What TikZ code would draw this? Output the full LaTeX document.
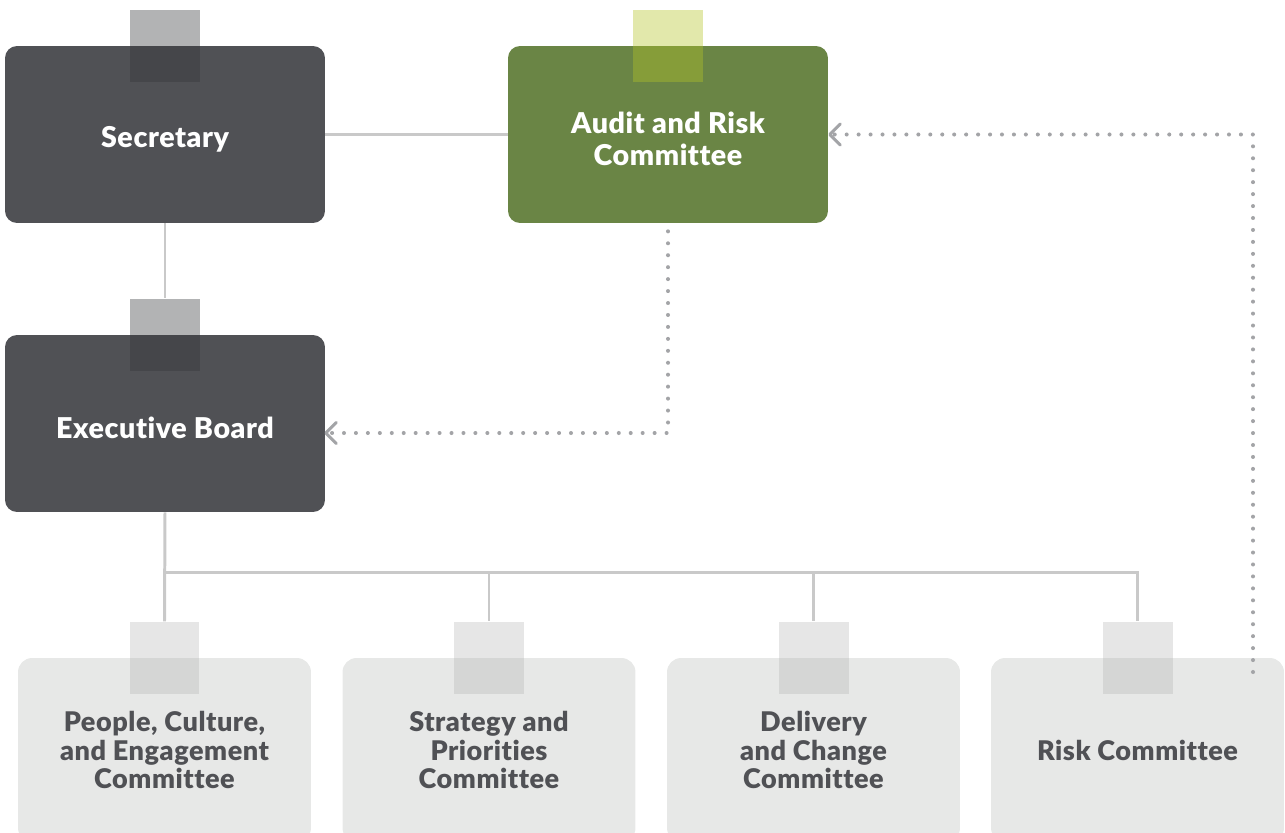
\documentclass[tikz,border=0pt]{standalone}
\usepackage{fontspec}
\newfontfamily\orgfont{Lato Black}[Ligatures=NoCommon, LetterSpace=2]
\usetikzlibrary{calc,arrows.meta}
\definecolor{boarddark}{HTML}{505155}
\definecolor{boardgreen}{HTML}{6A8545}
\definecolor{boardlight}{HTML}{E7E8E7}
\definecolor{tabdark}{RGB}{53,54,58}
\definecolor{tabgreen}{RGB}{180,196,39}
\definecolor{tablight}{RGB}{170,170,170}
\definecolor{linkgray}{HTML}{C9C9C9}
\definecolor{dotgray}{HTML}{A3A4A7}
\tikzset{
    board/.style={rounded corners=0.24cm, minimum width=6.4cm, minimum height=3.54cm,
        label={[boardtext]center:#1}},
    boardtext/.style={text=white, align=center, yshift=-2.6pt,
        font=\orgfont\fontsize{16.3}{17.9}\selectfont},
    panel/.style={fill=boardlight, rounded corners=0.28cm, minimum width=5.86cm, minimum height=3.68cm,
        text=boarddark, align=center, font=\orgfont\fontsize{15.4}{16}\selectfont},
    tab/.style={minimum width=1.4cm, minimum height=1.44cm, inner sep=0pt},
    link/.style={draw=linkgray, line width=1.7pt},
    dots/.style={draw=dotgray, line width=2.3pt, line cap=round, dash pattern=on 0pt off 6.8pt,
        -{Straight Barb[length=6pt, width=12pt, line width=1.7pt, round]}},
}
\begin{document}
\begin{tikzpicture}[x=0.02cm, y=-0.02cm]
    \path[use as bounding box, clip] (0, 0) rectangle (1285, 832);

    \node[board=Secretary, fill=boarddark] (sec) at (165, 134.5) {};
    \node[tab, fill=tabdark, fill opacity=0.38] (sectab) at (sec.north) {};
    \node[board={Audit and Risk\\Committee}, fill=boardgreen] (audit) at (668, 134.5) {};
    \node[tab, fill=tabgreen, fill opacity=0.39] (audittab) at (audit.north) {};
    \node[board={Executive Board}, fill=boarddark] (exec) at (165, 423.5) {};
    \node[tab, fill=tabdark, fill opacity=0.38] (exectab) at (exec.north) {};

    \node[panel] (people) at (164.5, 750) {People, Culture,\\and Engagement\\Committee};
    \node[panel] (strategy) at (489, 750) {Strategy and\\Priorities\\Committee};
    \node[panel] (delivery) at (813.5, 750) {Delivery\\and Change\\Committee};
    \node[panel] (risk) at (1137.5, 750) {Risk Committee};
    \foreach \n in {people, strategy, delivery, risk}
        \node[tab, fill=tablight, fill opacity=0.29] (\n tab) at (\n.north) {};

    \coordinate (bus) at (165, 572);
    \coordinate (riskout) at (1253, 672);

    \draw[link] (sec.east) -- (audit.west);
    \draw[link] (sec.south) -- (exectab.north);
    \draw[link] (exec.south) -- (peopletab.north);
    \draw[link] (bus) -| (risktab.north);
    \draw[link] (strategytab.north |- bus) -- (strategytab.north);
    \draw[link] (deliverytab.north |- bus) -- (deliverytab.north);

    \draw[dots] ($(audit.south) + (0, 8)$) |- ($(exec.east) + (-1, 9.5)$);
    \draw[dots] (riskout) |- ($(audit.east) + (0, 0)$);
\end{tikzpicture}
\end{document}
